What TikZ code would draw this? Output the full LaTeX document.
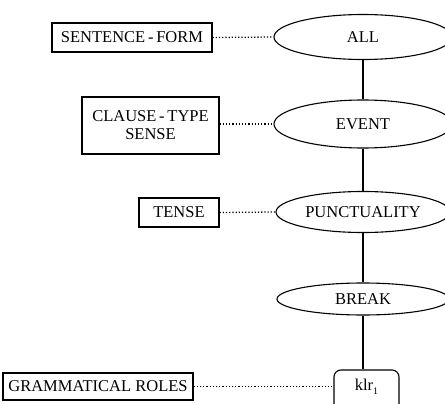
\documentclass[tikz,border=0pt]{standalone}
\usepackage{fontspec}
\setmainfont{Liberation Serif}
\usetikzlibrary{shapes.geometric}
\begin{document}
\begin{tikzpicture}[x=1pt,y=-1pt,
  every node/.style={font=\fontsize{16.5}{18}\selectfont, inner sep=0pt},
  concept/.style={draw, ellipse, line width=1.1pt, minimum width=178pt},
  label box/.style={draw, rectangle, line width=1.1pt, align=center},
  round box/.style={draw, rectangle, rounded corners=7pt, line width=1.1pt},
  tree/.style={line width=1.1pt},
  link/.style={line width=1.3pt, dash pattern=on 1.2pt off 2pt}]
\useasboundingbox (0,0) rectangle (445,404);
% hierarchy
\node[concept, minimum height=45pt] (all) at (363,37) {ALL};
\node[concept, minimum height=48pt] (event) at (363,124) {EVENT};
\node[concept, minimum height=41pt, minimum width=174pt] (punct) at (363,212) {PUNCTUALITY};
\node[concept, minimum height=32pt, minimum width=172pt] (break) at (363,299) {BREAK};
\node[round box, minimum width=65pt, minimum height=44pt] (klr) at (366.5,392) {};
\node (klrtext) at (366.5,387) {klr\raisebox{-3.5pt}{\fontsize{10}{10}\selectfont 1}};
% side boxes
\node[label box, minimum width=160pt, minimum height=29pt] (sf) at (132,37.5) {SENTENCE\,-\,FORM};
\node[label box, minimum width=137pt, minimum height=57pt] (cts) at (150.5,125.5) {CLAUSE\,-\,TYPE\\SENSE};
\node[label box, minimum width=80pt, minimum height=29pt] (tense) at (179,212.5) {TENSE};
\node[label box, minimum width=190pt, minimum height=27pt] (gr) at (98,386.5) {GRAMMATICAL ROLES};
% tree lines
\draw[tree] (all) -- (event);
\draw[tree] (event) -- (punct);
\draw[tree] (punct) -- (break);
\draw[tree] (break.south) -- (break.south |- klr.north);
% dotted links
\draw[link] (sf.east) -- (all.west);
\draw[link] (cts.east |- event.west) -- (event.west);
\draw[link] (tense.east) -- (punct.west);
\draw[link] (gr.east) -- (gr.east -| klr.west);
\end{tikzpicture}
\end{document}
